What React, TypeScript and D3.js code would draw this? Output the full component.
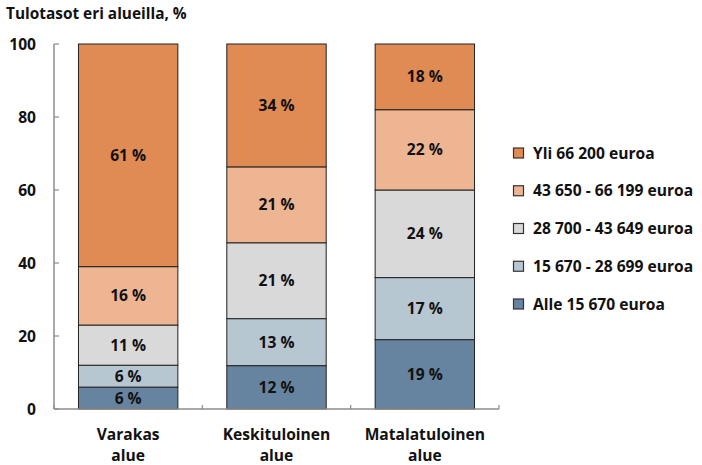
import React from 'react';
import * as d3 from 'd3';

// alueet (x-akseli), kaksi riviä per nimi
const categories = ['Varakas alue', 'Keskituloinen alue', 'Matalatuloinen alue'];
const categoryLines = [['Varakas', 'alue'], ['Keskituloinen', 'alue'], ['Matalatuloinen', 'alue']];

// tuloluokat alhaalta ylös
const seriesNames = [
  'Alle 15 670 euroa',
  '15 670 - 28 699 euroa',
  '28 700 - 43 649 euroa',
  '43 650 - 66 199 euroa',
  'Yli 66 200 euroa',
];
const seriesColors = ['#66849f', '#b7c7d1', '#d9d9d9', '#edb592', '#e08a54'];

// osuudet % (sarake per tuloluokka)
const alle15670 = [6, 12, 19];
const v15670_28699 = [6, 13, 17];
const v28700_43649 = [11, 21, 24];
const v43650_66199 = [16, 21, 22];
const yli66200 = [61, 34, 18];

const yTicks = [0, 20, 40, 60, 80, 100];

const W = 702;
const H = 465;
const margin = { left: 54, right: 203, top: 44, bottom: 56 };
const FONT = '"Open Sans", "Noto Sans", sans-serif';

export default function App() {
  const seriesValues = [alle15670, v15670_28699, v28700_43649, v43650_66199, yli66200];
  const rows = categories.map((c, i) => {
    const row: any = { cat: c };
    seriesNames.forEach((s, j) => (row[s] = seriesValues[j][i]));
    return row;
  });

  const stack = d3.stack<any>().keys(seriesNames).offset(d3.stackOffsetExpand);
  const stacked = stack(rows);

  const x = d3
    .scaleBand()
    .domain(categories)
    .range([margin.left, W - margin.right])
    .paddingInner(0.33)
    .paddingOuter(0.165);
  const y = d3.scaleLinear().domain([0, 1]).range([H - margin.bottom, margin.top]);
  const yAxis = d3.scaleLinear().domain([0, 100]).range([H - margin.bottom, margin.top]);

  const step = x.step();
  const x0 = margin.left;
  const x1 = W - margin.right;
  const yBase = H - margin.bottom;
  const axisColor = '#8c8c8c';

  const legendY = d3.scalePoint<number>().domain(d3.range(5)).range([304, 153]);

  return (
    <svg
      width={W}
      height={H}
      style={{ position: 'absolute', left: 0, top: 0, background: '#fff' }}
      fontFamily={FONT}
      fontWeight="bold"
    >
      <text x={6} y={19} fontSize={15.4} fill="#111">
        Tulotasot eri alueilla, %
      </text>

      {stacked.map((layer, j) =>
        layer.map((d, i) => {
          const cat = categories[i];
          const top = y(d[1]);
          const bot = y(d[0]);
          return (
            <g key={`${j}-${i}`}>
              <rect
                x={x(cat)}
                y={top}
                width={x.bandwidth()}
                height={bot - top}
                fill={seriesColors[j]}
                stroke="#222"
                strokeWidth={1}
              />
              <text
                x={(x(cat) as number) + x.bandwidth() / 2}
                y={(top + bot) / 2}
                dy="0.36em"
                textAnchor="middle"
                fontSize={15.6}
                fill="#111"
              >
                {seriesValues[j][i]} %
              </text>
            </g>
          );
        })
      )}

      {/* y-akseli */}
      <line x1={x0} x2={x0} y1={margin.top} y2={yBase} stroke={axisColor} strokeWidth={1.5} />
      {yTicks.map((t) => (
        <g key={t}>
          <line x1={x0} x2={x0 + 5} y1={yAxis(t)} y2={yAxis(t)} stroke={axisColor} strokeWidth={1.2} />
          <text x={36} y={yAxis(t)} dy="0.36em" textAnchor="end" fontSize={15.6} fill="#111">
            {t}
          </text>
        </g>
      ))}

      {/* x-akseli */}
      <line x1={x0} x2={x1} y1={yBase} y2={yBase} stroke={axisColor} strokeWidth={1.5} />
      {d3.range(4).map((k) => (
        <line
          key={k}
          x1={x0 + k * step}
          x2={x0 + k * step}
          y1={yBase}
          y2={yBase - 4}
          stroke={axisColor}
          strokeWidth={1.2}
        />
      ))}
      {categories.map((c, i) => (
        <text
          key={c}
          x={(x(c) as number) + x.bandwidth() / 2}
          y={440}
          textAnchor="middle"
          fontSize={15.6}
          fill="#111"
        >
          {categoryLines[i].map((ln, k) => (
            <tspan key={k} x={(x(c) as number) + x.bandwidth() / 2} dy={k === 0 ? 0 : 21}>
              {ln}
            </tspan>
          ))}
        </text>
      ))}

      {/* selite */}
      {seriesNames.map((s, j) => (
        <g key={s} transform={`translate(513, ${legendY(j)})`}>
          <rect x={0.5} y={-5} width={10} height={10} fill={seriesColors[j]} stroke="#333" strokeWidth={1.2} />
          <text x={20} y={0} dy="0.36em" fontSize={15.6} fill="#111">
            {s}
          </text>
        </g>
      ))}
    </svg>
  );
}
